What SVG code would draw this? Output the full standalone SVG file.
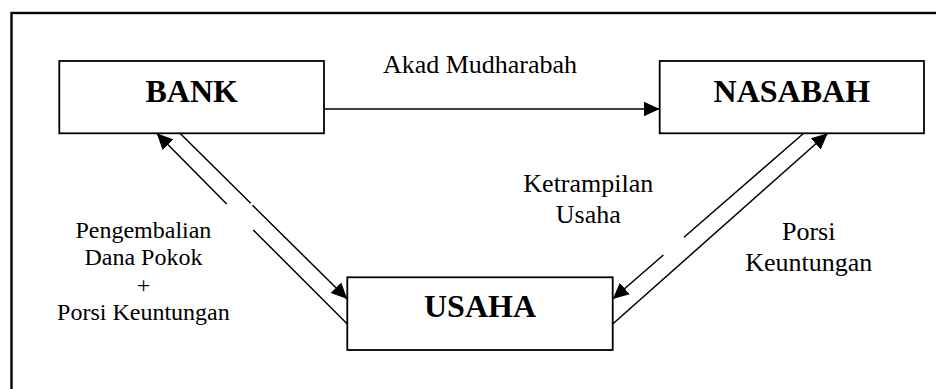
<svg xmlns="http://www.w3.org/2000/svg" width="936" height="389" viewBox="0 0 936 389">
<style>
.box{fill:#fff;stroke:#000;stroke-width:1.8}
.frame{fill:none;stroke:#000;stroke-width:2.4}
.lbl{font-family:"Liberation Serif","Times New Roman",serif;font-weight:bold;font-size:32px;fill:#000;text-anchor:middle}
.t{font-family:"Liberation Serif","Times New Roman",serif;font-size:24px;fill:#000;text-anchor:middle}
.t26{font-family:"Liberation Serif","Times New Roman",serif;font-size:26px;fill:#000;text-anchor:middle}
.c{fill:none;stroke:#000;stroke-width:1.5}
</style>
<defs>
<marker id="ah" markerUnits="userSpaceOnUse" viewBox="0 0 16 16" markerWidth="16" markerHeight="16" refX="16" refY="8" orient="auto">
<path d="M0,0.5 L16,8 L0,15.5 z" fill="#000"/>
</marker>
</defs>
<rect class="frame" x="11.5" y="13" width="940" height="400"/>
<g id="connectors">
<path class="c" d="M324,109 L659.7,109" marker-end="url(#ah)"/>
<path class="c" d="M347.3,324 L253.3,230 M226.7,204 L156.7,133.3" marker-end="url(#ah)"/>
<path class="c" d="M180,133.3 L250.7,203.3 M252.5,205.2 L347.3,299" marker-end="url(#ah)"/>
<path class="c" d="M803.7,133.3 L684,237.3 M663.4,255 L612.7,299" marker-end="url(#ah)"/>
<path class="c" d="M612.7,324 L827.7,133.3" marker-end="url(#ah)"/>
</g>
<g id="bank">
<rect class="box" x="59.3" y="61" width="264.7" height="72.3"/>
<text class="lbl" x="191.7" y="101.7">BANK</text>
</g>
<g id="nasabah">
<rect class="box" x="659.7" y="61" width="264.3" height="72.3"/>
<text class="lbl" x="791.8" y="101.7">NASABAH</text>
</g>
<g id="usaha">
<rect class="box" x="347.3" y="277.3" width="265.4" height="72.7"/>
<text class="lbl" x="480" y="317.3">USAHA</text>
</g>
<g id="labels">
<text class="t26" x="480" y="72.7">Akad Mudharabah</text>
<text class="t" x="143.4" y="238.3">Pengembalian</text>
<text class="t" x="143.4" y="265">Dana Pokok</text>
<text class="t" x="143.4" y="292.7">+</text>
<text class="t" x="143.4" y="320">Porsi Keuntungan</text>
<text class="t26" x="588.3" y="191.7">Ketrampilan</text>
<text class="t26" x="588.3" y="222.7">Usaha</text>
<text class="t26" x="808.7" y="240">Porsi</text>
<text class="t26" x="808.7" y="270.7">Keuntungan</text>
</g>
</svg>
